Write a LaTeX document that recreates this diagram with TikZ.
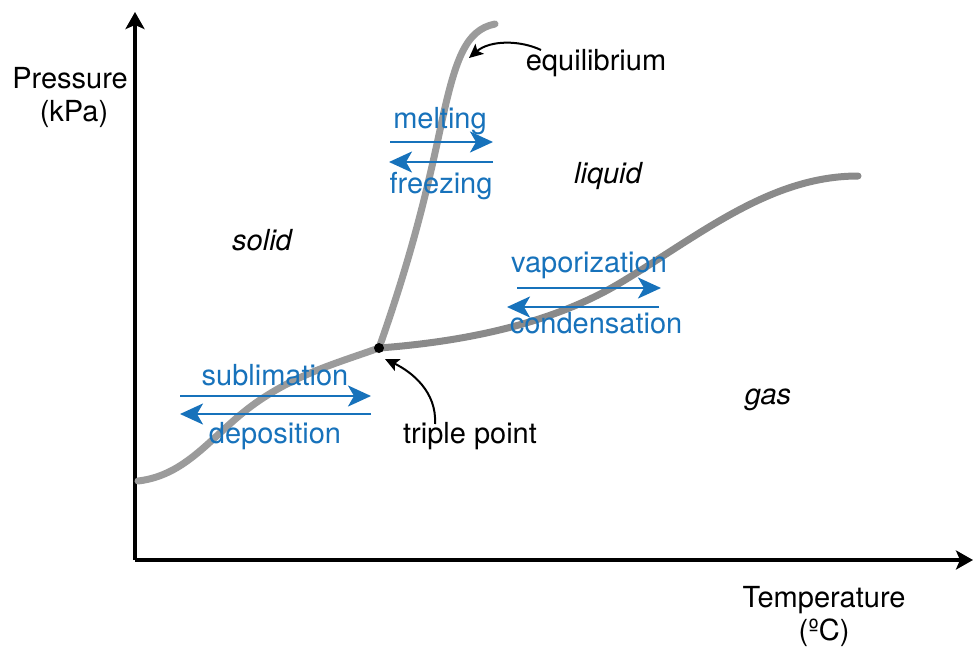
\documentclass[tikz,border=0pt]{standalone}
\usepackage{fontspec}
\setmainfont{TeX Gyre Heros}
\usetikzlibrary{arrows.meta}
\definecolor{procblue}{RGB}{23,114,187}
\definecolor{curvelight}{RGB}{155,155,155}
\definecolor{curvedark}{RGB}{138,138,138}
\tikzset{
  lbl/.style={font=\fontsize{29}{29}\selectfont, inner sep=0pt, anchor=base},
  phase/.style={lbl, font=\fontsize{29}{29}\selectfont\itshape},
  proc/.style={lbl, text=procblue},
  procarrow/.style={draw=procblue, line width=2.5pt, -{Stealth[length=23pt,width=21pt,inset=6pt]}},
  axis/.style={line width=4pt, -{Stealth[length=17pt,width=19pt,inset=4pt]}},
  note/.style={line width=2pt, -{Stealth[length=14pt,width=13pt,inset=3pt]}},
  curve/.style={line width=7pt, line cap=round}
}
\begin{document}
\begin{tikzpicture}[x=1pt,y=-1pt]
\useasboundingbox (0,0) rectangle (973,648);
% axes
\coordinate (O) at (135,560);
\coordinate (ytop) at (135,12);
\coordinate (xend) at (973,560);
\draw[axis] (O) -- (ytop);
\draw[axis] (O) -- (xend);
% curve end points
\coordinate (subStart) at (138,481);
\coordinate (meltEnd) at (495,24);
\coordinate (vapEnd) at (858,176);
\coordinate (tpc) at (379,348);
% curves
\draw[curve, draw=curvelight] (subStart) .. controls (190,475) and (215,430) .. (260,400)
   .. controls (300,373) and (340,362) .. (tpc);
\draw[curve, draw=curvelight] (tpc) .. controls (410,260) and (425,200) .. (440,130)
   .. controls (455,60) and (465,30) .. (meltEnd);
\draw[curve, draw=curvedark] (tpc) .. controls (460,342) and (550,325) .. (620,283)
   .. controls (700,235) and (770,176) .. (vapEnd);
\node[circle, fill=black, inner sep=0pt, minimum size=10pt] (tp) at (tpc) {};
% axis labels
\node[lbl] (pres) at (70,88) {Pressure};
\node[lbl] (kpa) at (74,121) {(kPa)};
\node[lbl] (temp) at (824,607) {Temperature};
\node[lbl] (degc) at (824,640) {(ºC)};
% phase labels
\node[phase] (solid) at (262,250) {solid};
\node[phase] (liquid) at (608,183) {liquid};
\node[phase] (gas) at (768,404) {gas};
% process labels
\node[proc] (melting) at (440,128) {melting};
\node[proc] (freezing) at (441,193) {freezing};
\node[proc] (vapor) at (589,272) {vaporization};
\node[proc] (conden) at (596,333) {condensation};
\node[proc] (sublim) at (275,385) {sublimation};
\node[proc] (depos) at (275,443) {deposition};
% process arrows
\coordinate (m1) at (390,142); \coordinate (m2) at (493,142);
\coordinate (f1) at (493,162); \coordinate (f2) at (389,162);
\coordinate (v1) at (517,288); \coordinate (v2) at (661,288);
\coordinate (c1) at (659,307); \coordinate (c2) at (507,307);
\coordinate (s1) at (180,396); \coordinate (s2) at (371,396);
\coordinate (d1) at (371,414); \coordinate (d2) at (180,414);
\draw[procarrow] (m1) -- (m2);
\draw[procarrow] (f1) -- (f2);
\draw[procarrow] (v1) -- (v2);
\draw[procarrow] (c1) -- (c2);
\draw[procarrow] (s1) -- (s2);
\draw[procarrow] (d1) -- (d2);
% annotations
\node[lbl] (equil) at (596,70) {equilibrium};
\node[lbl] (triple) at (470,443) {triple point};
\coordinate (eqStart) at (541,50);
\coordinate (eqTip) at (469,58);
\coordinate (tpStart) at (435,424);
\coordinate (tpTip) at (385,359);
\draw[note] (eqStart) .. controls (520,40) and (490,40) .. (eqTip);
\draw[note] (tpStart) .. controls (437,392) and (412,372) .. (tpTip);
\end{tikzpicture}
\end{document}
